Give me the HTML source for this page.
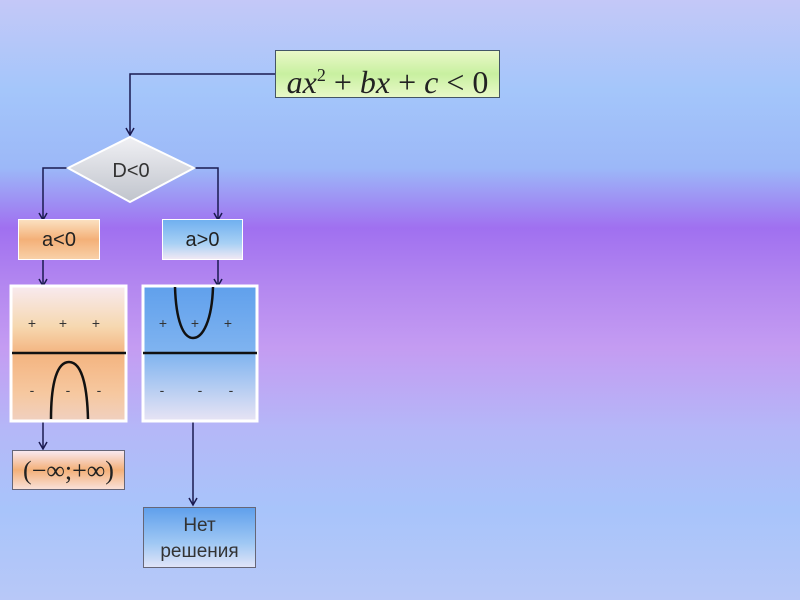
<!DOCTYPE html>
<html><head><meta charset="utf-8"><style>
body{margin:0;width:800px;height:600px;overflow:hidden;font-family:"Liberation Sans","DejaVu Sans",sans-serif;
background:linear-gradient(180deg,#c4c8f8 0%,#a4c6fa 15%,#9cb8f8 28%,#a070f0 38%,#b488f0 48%,#c49cf2 58%,#b4b8f8 72%,#a8c4fa 85%,#b8c8f8 100%);}
.b{position:absolute;box-sizing:border-box;text-align:center;color:#222}
</style></head><body>
<svg width="800" height="600" style="position:absolute;left:0;top:0">
<defs>
<marker id="a" markerWidth="10" markerHeight="10" refX="8" refY="5" orient="auto" markerUnits="userSpaceOnUse"><path d="M1,1 L8,5 L1,9" fill="none" stroke="#1a1a50" stroke-width="1.5"/></marker>
<linearGradient id="dg" x1="0" y1="0" x2="0" y2="1"><stop offset="0" stop-color="#f0f0f4"/><stop offset="1" stop-color="#c0c4cc"/></linearGradient>
<linearGradient id="lg" x1="0" y1="0" x2="0" y2="1"><stop offset="0" stop-color="#f8eaf0"/><stop offset="0.3" stop-color="#f6d8b0"/><stop offset="0.5" stop-color="#f4b480"/><stop offset="0.8" stop-color="#f6c8a0"/><stop offset="1" stop-color="#f0d0c0"/></linearGradient>
<linearGradient id="rg" x1="0" y1="0" x2="0" y2="1"><stop offset="0" stop-color="#60a0ec"/><stop offset="0.5" stop-color="#80b4f0"/><stop offset="1" stop-color="#e8e4f4"/></linearGradient>
</defs>
<g stroke="#1a1a50" stroke-width="1.5" fill="none">
<path d="M275,74 H130 V135" marker-end="url(#a)"/>
<path d="M68,168 H43 V220" marker-end="url(#a)"/>
<path d="M194,168 H218 V220" marker-end="url(#a)"/>
<path d="M43,260 V286" marker-end="url(#a)"/>
<path d="M218,260 V286" marker-end="url(#a)"/>
<path d="M43,421 V449" marker-end="url(#a)"/>
<path d="M193,421 V505" marker-end="url(#a)"/>
</g>
<polygon points="130,137 194,168 130,202 68,168" fill="url(#dg)" stroke="#fff" stroke-width="2"/>
<text x="131" y="177" font-size="20" text-anchor="middle" fill="#333" font-family="Liberation Sans">D&lt;0</text>
<rect x="11" y="286" width="115" height="135" fill="url(#lg)" stroke="#fff" stroke-width="3"/>
<rect x="143" y="286" width="114" height="135" fill="url(#rg)" stroke="#fff" stroke-width="3"/>
<line x1="12" y1="353" x2="126" y2="353" stroke="#111" stroke-width="2.5"/>
<line x1="143" y1="353" x2="257" y2="353" stroke="#111" stroke-width="2.5"/>
<path d="M51,419 C51,380 58,362 69,362 C80,362 87,380 88,419" fill="none" stroke="#111" stroke-width="2.5"/>
<path d="M175,287 C176,320 183,338 193,338 C203,338 212,320 213,287" fill="none" stroke="#111" stroke-width="2.5"/>
<g font-size="14" fill="#333" text-anchor="middle">
<text x="32" y="328">+</text><text x="63" y="328">+</text><text x="96" y="328">+</text>
<text x="32" y="395">-</text><text x="68" y="395">-</text><text x="99" y="395">-</text>
<text x="163" y="328">+</text><text x="195" y="328">+</text><text x="228" y="328">+</text>
<text x="162" y="395">-</text><text x="200" y="395">-</text><text x="231" y="395">-</text>
</g>
</svg>
<div class="b" style="left:275px;top:50px;width:225px;height:48px;border:1px solid #456;background:linear-gradient(180deg,#eaf8c8,#c8f0a0 50%,#e8f8c8);font-family:'Liberation Serif',serif;font-style:italic;font-size:32px;line-height:48px;white-space:nowrap">ax<sup style="font-size:18px;font-style:normal;vertical-align:12px">2</sup> <span style="font-style:normal">+</span> bx <span style="font-style:normal">+</span> c <span style="font-style:normal">&lt; 0</span></div>
<div class="b" style="left:18px;top:219px;width:82px;height:41px;background:linear-gradient(180deg,#fbe0c0,#f4b078 50%,#f8d0a8);border:1px solid #fff;font-size:20px;line-height:41px">a&lt;0</div>
<div class="b" style="left:162px;top:219px;width:81px;height:41px;background:linear-gradient(180deg,#70b0f0,#a8d0f4 60%,#f0e8f4);border:1px solid #fff;font-size:20px;line-height:41px">a&gt;0</div>
<div class="b" style="left:12px;top:450px;width:113px;height:40px;border:1px solid #667;background:linear-gradient(180deg,#f8e8f0,#f4b078 50%,#f8e0d8);font-family:'Liberation Serif',serif;font-size:26px;line-height:40px">(−∞;+∞)</div>
<div class="b" style="left:143px;top:507px;width:113px;height:61px;border:1px solid #667;background:linear-gradient(180deg,#60a0ec,#a0c8f4 60%,#e0e4f8);font-size:19px;line-height:26px;padding-top:5px;color:#333">Нет<br>решения</div>
</body></html>
